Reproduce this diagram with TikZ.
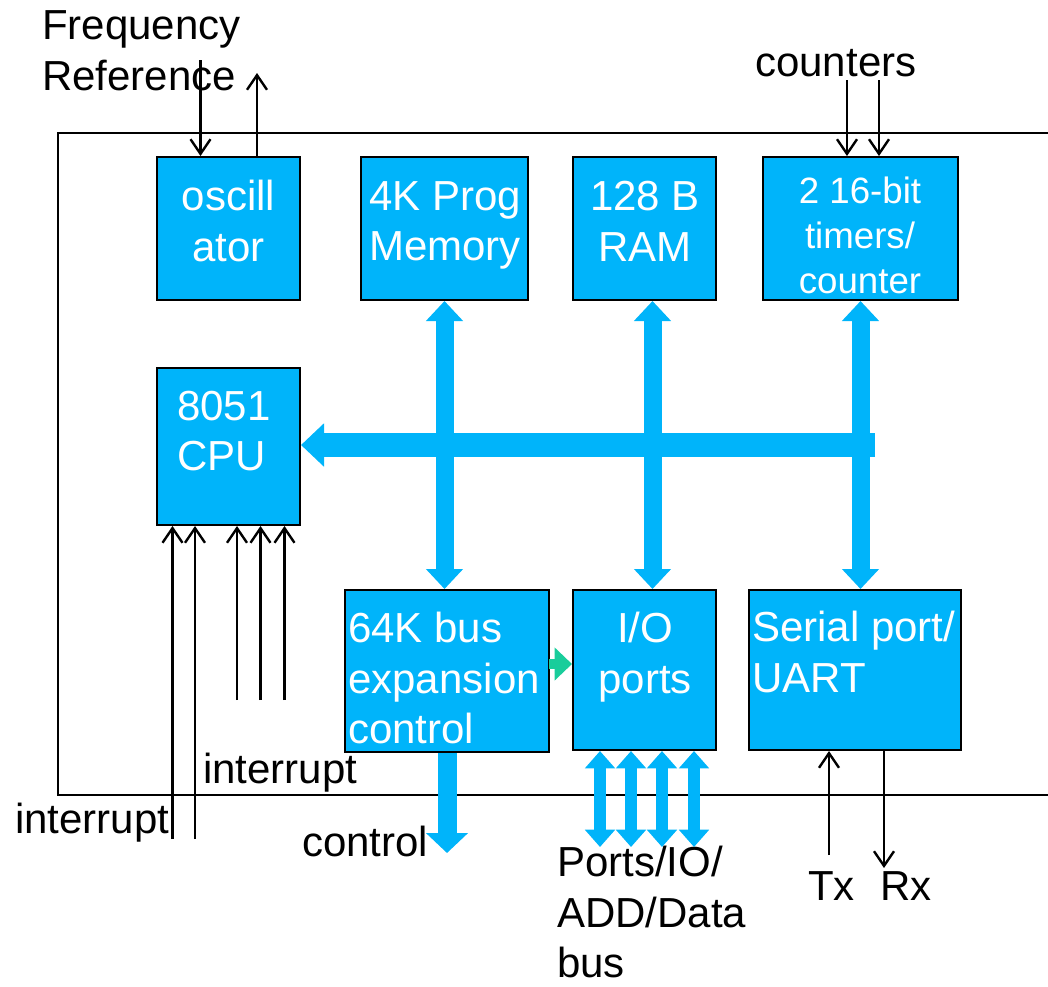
\documentclass[tikz,border=0pt]{standalone}
\usepackage{fontspec}
\setmainfont{Liberation Sans}
\usetikzlibrary{arrows.meta}
\definecolor{boxblue}{RGB}{0,180,250}
\definecolor{tealarrow}{RGB}{25,205,155}
\begin{document}
\begin{tikzpicture}[x=0.75pt,y=-0.75pt,
  box/.style={draw=black, line width=1.5pt, fill=boxblue, inner sep=0pt},
  intext/.style={text=white, font=\fontsize{31.5}{38}\selectfont, inner sep=0pt},
  lab/.style={text=black, font=\fontsize{31.5}{38}\selectfont, inner sep=0pt},
  sig/.style={line width=1.8pt, -{Straight Barb[width=15pt,length=11pt]}},
  hbus/.style={draw=boxblue, line width=17.5pt, -{Triangle[width=31.5pt,length=17.25pt]}},
  vbus/.style={draw=boxblue, line width=13.5pt, {Triangle[width=27pt,length=15pt]}-{Triangle[width=27pt,length=15pt]}},
  ctlarrow/.style={draw=boxblue, line width=14.25pt, -{Triangle[width=30.75pt,length=15pt]}},
  portarrow/.style={draw=boxblue, line width=9pt, {Triangle[width=22pt,length=13pt]}-{Triangle[width=22pt,length=13pt]}},
  garrow/.style={draw=tealarrow, line width=7.5pt, -{Triangle[width=24pt,length=13pt]}}
]
\useasboundingbox (0,0) rectangle (1048,986);
% outer frame
\draw[line width=1.8pt] (1070,133) -- (58,133) -- (58,795) -- (1070,795);

% boxes
\node[box, minimum width=107.25pt, minimum height=107.25pt] (osc) at (228.5,228.5) {};
\node[box, minimum width=125.25pt, minimum height=107.25pt] (mem) at (444.5,228.5) {};
\node[box, minimum width=107.25pt, minimum height=107.25pt] (ram) at (644.5,228.5) {};
\node[box, minimum width=146.25pt, minimum height=107.25pt] (tim) at (860.5,228.5) {};
\node[box, minimum width=107.25pt, minimum height=117.75pt] (cpu) at (228.5,446.5) {};
\node[box, minimum width=153pt, minimum height=121.5pt] (bus) at (447,671) {};
\node[box, minimum width=107.25pt, minimum height=120pt] (io) at (644.5,670) {};
\node[box, minimum width=159pt, minimum height=120pt] (ser) at (855,670) {};

% box texts
\node[intext, align=center] (osct) at (228.5,221) {oscill\\ator};
\node[intext, align=center] (memt) at (445,225.5) {4K Prog\\Memory};
\node[intext, align=center] (ramt) at (645,221) {128 B\\RAM};
\node[intext, align=center, font=\fontsize{27.5}{33.5}\selectfont] (timt) at (860,235.5) {2 16-bit\\timers/\\counter};
\node[intext, align=left, anchor=west] (cput) at (177,431) {8051\\CPU};
\node[intext, align=left, anchor=west] (bust) at (348,678) {64K bus\\expansion\\control};
\node[intext, align=center] (iot) at (645,657) {I/O\\ports};
\node[intext, align=left, anchor=west] (sert) at (752,652) {Serial port/\\UART};

% outside labels
\node[lab, align=left, anchor=west] (freq) at (42,51) {Frequency\\Reference};
\node[lab, anchor=base west] (cnt) at (755,76) {counters};
\node[lab, anchor=base west] (int1) at (203,783) {interrupt};
\node[lab, anchor=base west] (int2) at (15,833) {interrupt};
\node[lab, anchor=base west] (ctl) at (302,856) {control};
\node[lab, align=left, anchor=west] (ports) at (557,912) {Ports/IO/\\ADD/Data\\bus};
\node[lab, anchor=base west] (tx) at (808,900) {Tx};
\node[lab, anchor=base west] (rx) at (880,900) {Rx};

% thin signal arrows
\coordinate (fin) at (200.5,60);
\coordinate (fout) at (257,73);
\draw[sig] (fin) -- (fin |- osc.north);
\draw[sig] (osc.north -| fout) -- (fout);
\coordinate (c1) at (847,80);
\coordinate (c2) at (879,80);
\draw[sig] (c1) -- (c1 |- tim.north);
\draw[sig] (c2) -- (c2 |- tim.north);
\coordinate (i1) at (172.5,839);
\coordinate (i2) at (195,839);
\coordinate (i3) at (237,700);
\coordinate (i4) at (260.5,700);
\coordinate (i5) at (284.5,700);
\foreach \c in {i1,i2,i3,i4,i5} {\draw[sig] (\c) -- (\c |- cpu.south);}
\coordinate (txs) at (829,855);
\coordinate (rxe) at (884,868);
\draw[sig] (txs) -- (txs |- ser.south);
\draw[sig] (ser.south -| rxe) -- (rxe);

% buses
\coordinate (busR) at (875,445);
\draw[hbus] (busR) -- (cpu.east |- busR);
\draw[vbus] (mem.south) -- (mem.south |- bus.north);
\coordinate (ramb) at ([xshift=6pt]ram.south);
\draw[vbus] (ramb) -- (ramb |- io.north);
\draw[vbus] (tim.south) -- (tim.south |- ser.north);
\coordinate (ctlend) at (447,853);
\draw[ctlarrow] (bus.south) -- (ctlend);
\coordinate (p1) at (600,847);
\coordinate (p2) at (631,847);
\coordinate (p3) at (662,847);
\coordinate (p4) at (694,847);
\foreach \p in {p1,p2,p3,p4} {\draw[portarrow] (io.south -| \p) -- (\p);}
\coordinate (g) at (549,664);
\draw[garrow] (g) -- (g -| io.west);
\end{tikzpicture}
\end{document}
